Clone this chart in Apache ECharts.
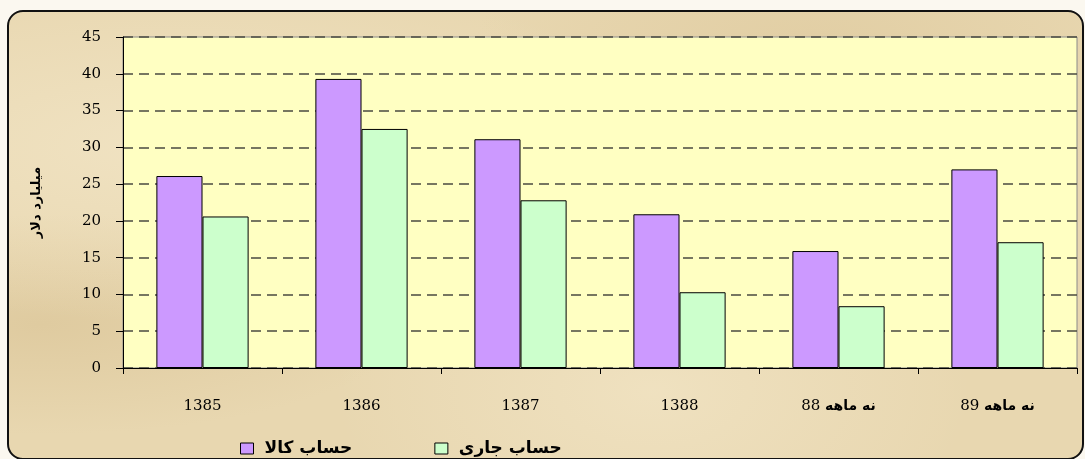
<!DOCTYPE html>
<html>
<head>
<meta charset="utf-8">
<script src="https://cdn.jsdelivr.net/npm/echarts@6/dist/echarts.min.js"></script>
<style>
html, body {
  margin: 0;
  padding: 0;
  background: #fbf8f0;
  overflow: hidden;
}
#wrap {
  position: relative;
  width: 1085px;
  height: 459px;
  overflow: hidden;
}
/* کادر کاغذی دور نمودار */
.paper {
  position: absolute;
  left: 7px;
  top: 10px;
  width: 1073px;
  height: 446px;
  border: 2px solid #111;
  border-radius: 16px;
  background-color: #e8d7b0;
  background-image:
    radial-gradient(ellipse at 15% 30%, rgba(250, 240, 215, 0.45), rgba(250, 240, 215, 0) 40%),
    radial-gradient(ellipse at 60% 85%, rgba(250, 240, 215, 0.4), rgba(250, 240, 215, 0) 35%),
    radial-gradient(ellipse at 75% 10%, rgba(215, 192, 145, 0.4), rgba(215, 192, 145, 0) 30%),
    radial-gradient(ellipse at 3% 70%, rgba(212, 188, 140, 0.45), rgba(212, 188, 140, 0) 25%);
}
#chart {
  position: absolute;
  left: 0;
  top: 0;
  width: 1085px;
  height: 459px;
}
</style>
</head>
<body>
<div id="wrap">
  <div class="paper"></div>
  <div id="chart"></div>
</div>
<script>
// داده ها
const categories = ["1385", "1386", "1387", "1388", "نه ماهه 88", "نه ماهه 89"];
const kalaValues = [26.1, 39.3, 31.1, 20.9, 15.9, 27.0];
const jariValues = [20.6, 32.5, 22.8, 10.3, 8.4, 17.1];
const seriesNames = ["حساب کالا", "حساب جاری"];
const yTicks = { min: 0, max: 45, interval: 5 };
const yTitle = "میلیارد دلار";

const numFont = "'DejaVu Serif', 'Liberation Serif', serif";
const faFont = "'DejaVu Sans', 'Noto Sans', sans-serif";

const chart = echarts.init(document.getElementById("chart"), null, { renderer: "canvas" });

// برچسب محور افقی: عدد با فونت سریف در چپ، بخش فارسی با فونت ضخیم
function xLabel(value) {
  const parts = value.split(" ");
  if (parts.length === 1) return "{n|" + value + "}";
  const num = parts.pop();
  return "{n|" + num + " }{f|" + parts.join(" ") + "}";
}

const option = {
  animation: false,
  grid: {
    left: 123,
    right: 8,
    top: 37,
    bottom: 91,
    show: true,
    backgroundColor: "#ffffc2",
    borderColor: "#8a8a8a",
    borderWidth: 1,
    containLabel: false,
    outerBoundsMode: "none"
  },
  legend: {
    left: 235,
    top: 435,
    itemWidth: 13,
    itemHeight: 11,
    itemGap: 82,
    icon: "rect",
    itemStyle: {
      borderColor: "#000",
      borderWidth: 1
    },
    textStyle: {
      fontFamily: faFont,
      fontWeight: "bold",
      fontSize: 17,
      color: "#000",
      padding: [0, 0, 0, 6]
    },
    data: seriesNames
  },
  xAxis: {
    type: "category",
    data: categories,
    axisLine: { lineStyle: { color: "#000", width: 1 } },
    axisTick: { show: true, length: 6, lineStyle: { color: "#000" } },
    axisLabel: {
      margin: 31,
      color: "#000",
      formatter: xLabel,
      rich: {
        n: { fontFamily: numFont, fontSize: 15, color: "#000" },
        f: { fontFamily: faFont, fontSize: 14, fontWeight: "bold", color: "#000" }
      }
    }
  },
  yAxis: {
    type: "value",
    min: yTicks.min,
    max: yTicks.max,
    interval: yTicks.interval,
    name: yTitle,
    nameLocation: "middle",
    nameRotate: 90,
    nameGap: 80,
    nameTextStyle: {
      fontFamily: faFont,
      fontWeight: "bold",
      fontSize: 13,
      color: "#000"
    },
    axisLine: { show: true, lineStyle: { color: "#000", width: 1 } },
    axisTick: { show: true, length: 7, lineStyle: { color: "#000" } },
    axisLabel: {
      margin: 22,
      fontFamily: numFont,
      fontSize: 15,
      color: "#000"
    },
    splitLine: {
      show: true,
      lineStyle: { color: "#4a4a40", width: 1.5, type: [10, 6] }
    }
  },
  series: [
    {
      name: seriesNames[0],
      type: "bar",
      data: kalaValues,
      barGap: 0,
      barCategoryGap: "42%",
      itemStyle: { color: "#cc99ff", borderColor: "#000", borderWidth: 1 }
    },
    {
      name: seriesNames[1],
      type: "bar",
      data: jariValues,
      itemStyle: { color: "#ccffcc", borderColor: "#000", borderWidth: 1 }
    }
  ]
};

chart.setOption(option);
</script>
</body>
</html>
